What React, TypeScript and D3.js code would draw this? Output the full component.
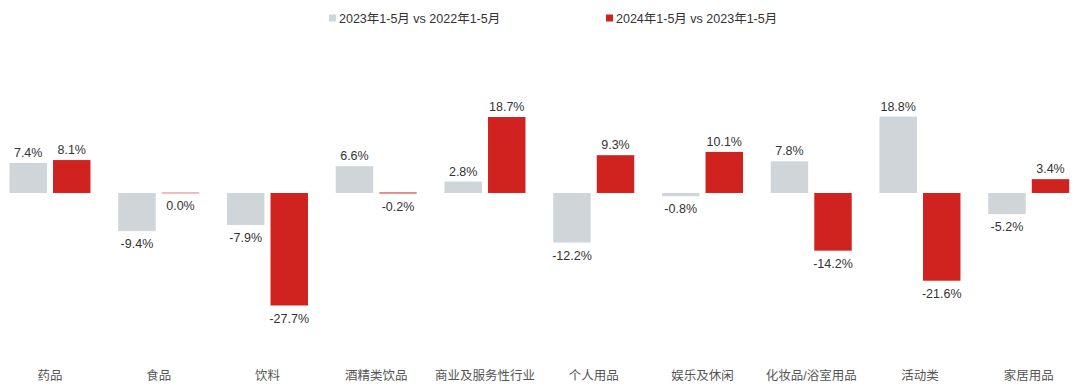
import { useEffect, useRef } from "react";
import * as d3 from "d3";

const categories = ["药品", "食品", "饮料", "酒精类饮品", "商业及服务性行业", "个人用品", "娱乐及休闲", "化妆品/浴室用品", "活动类", "家居用品"];
const seriesNames = ["2023年1-5月 vs 2022年1-5月", "2024年1-5月 vs 2023年1-5月"];
const series2023 = [7.4, -9.4, -7.9, 6.6, 2.8, -12.2, -0.8, 7.8, 18.8, -5.2];
const series2024 = [8.1, 0.0, -27.7, -0.2, 18.7, 9.3, 10.1, -14.2, -21.6, 3.4];
const colors = ["#cfd5d8", "#d0221f"];

export default function App() {
  const ref = useRef<SVGSVGElement>(null);

  useEffect(() => {
    const svg = d3.select(ref.current);
    svg.selectAll("*").remove();

    const font = "'Liberation Sans', Arial, 'Noto Sans CJK SC', sans-serif";

    const x0 = d3.scaleBand().domain(categories).range([-4.4, 1083.1]);
    const half = x0.bandwidth() / 2;
    const x1 = d3.scaleBand().domain(["a", "b"]).range([half - 40.5, half + 40.5]).paddingInner(0.14);
    const y = d3.scaleLinear().domain([-27.7, 18.7]).range([305.5, 117]);

    const rows = categories.map((c, i) => ({ c, vals: [series2023[i], series2024[i]] }));

    const g = svg.append("g");
    rows.forEach(r => {
      r.vals.forEach((v, j) => {
        const key = j === 0 ? "a" : "b";
        const bx = x0(r.c)! + x1(key)!;
        const y0 = y(0), yv = y(v);
        let top = Math.min(y0, yv), h = Math.abs(yv - y0);
        if (h < 1) { h = 1; top = y0 - 0.5; }
        g.append("rect")
          .attr("x", bx).attr("y", top)
          .attr("width", x1.bandwidth()).attr("height", h)
          .attr("fill", colors[j])
          .attr("opacity", v === 0 ? 0.6 : 1);
        g.append("text")
          .attr("x", bx + x1.bandwidth() / 2)
          .attr("y", v > 0 ? yv - 6 : Math.max(yv, y0) + 17)
          .attr("text-anchor", "middle")
          .attr("font-family", font).attr("font-size", 12.5)
          .attr("fill", "#333")
          .text(v.toFixed(1) + "%");
      });
    });

    const axis = svg.append("g").attr("transform", "translate(0,380)")
      .call(d3.axisBottom(x0).tickSize(0).tickPadding(0));
    axis.select(".domain").remove();
    axis.selectAll("text")
      .attr("dy", 0)
      .attr("font-family", font).attr("font-size", 12.5).attr("fill", "#555");

    const legendX = [329, 606];
    seriesNames.forEach((n, i) => {
      svg.append("rect").attr("x", legendX[i]).attr("y", 14.5).attr("width", 7).attr("height", 7).attr("fill", colors[i]);
      svg.append("text").attr("x", legendX[i] + 10).attr("y", 23)
        .attr("font-family", font).attr("font-size", 12.5).attr("fill", "#333").text(n);
    });
  }, []);

  return (
    <svg ref={ref} width={1080} height={391} style={{ position: "absolute", left: 0, top: 0, background: "#fff" }} />
  );
}
